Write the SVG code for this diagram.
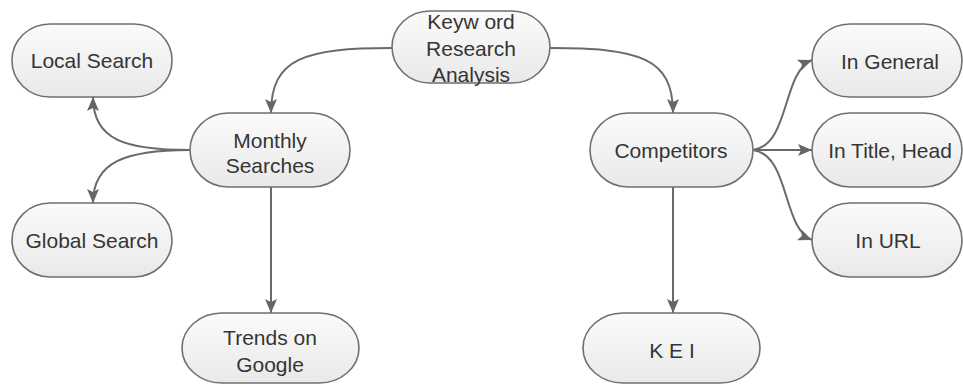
<svg xmlns="http://www.w3.org/2000/svg" width="963" height="385" viewBox="0 0 963 385">
<defs>
<linearGradient id="g" x1="0" y1="0" x2="0" y2="1">
<stop offset="0" stop-color="#fbfbfb"/>
<stop offset="1" stop-color="#e9e9e9"/>
</linearGradient>
<marker id="ah" markerUnits="userSpaceOnUse" markerWidth="16" markerHeight="14" refX="14" refY="7" orient="auto">
<path d="M0,1 L14,7 L0,13 L3,7 Z" fill="#666"/>
</marker>
</defs>
<style>
.n rect{fill:url(#g);stroke:#6f6f6f;stroke-width:1.6}
.n text{font-family:"Liberation Sans",Arial,sans-serif;font-size:21px;fill:#353535;text-anchor:middle}
.c path{fill:none;stroke:#6a6a6a;stroke-width:2;marker-end:url(#ah)}
</style>
<rect width="963" height="385" fill="#fff"/>
<g class="c" id="connectors">
<path d="M392,48 C305,48 271,58 271,113"/>
<path d="M550,48 C640,48 673,58 673,113"/>
<path d="M190,150 C125,150 93,140 93,97"/>
<path d="M190,150 C125,150 93,162 93,203"/>
<path d="M271,187 L271,313"/>
<path d="M753,150 C790,145 782,72 812,60"/>
<path d="M753,150 L812,150"/>
<path d="M753,150 C790,155 782,228 812,240"/>
<path d="M673,187 L673,313"/>
</g>
<g class="n" id="keyword">
<rect x="392" y="11" width="158" height="72" rx="38" ry="36"/>
<text x="471" y="29">Keyw ord</text>
<text x="471" y="56">Research</text>
<text x="471" y="82">Analysis</text>
</g>
<g class="n" id="local">
<rect x="12" y="24" width="160" height="73" rx="38" ry="36"/>
<text x="92" y="68">Local Search</text>
</g>
<g class="n" id="monthly">
<rect x="190" y="113" width="160" height="74" rx="38" ry="37"/>
<text x="270" y="148">Monthly</text>
<text x="270" y="173">Searches</text>
</g>
<g class="n" id="global">
<rect x="12" y="203" width="160" height="74" rx="38" ry="37"/>
<text x="92" y="248">Global Search</text>
</g>
<g class="n" id="trends">
<rect x="182" y="313" width="177" height="70" rx="40" ry="35"/>
<text x="270" y="345">Trends on</text>
<text x="270" y="372">Google</text>
</g>
<g class="n" id="competitors">
<rect x="590" y="113" width="163" height="74" rx="38" ry="37"/>
<text x="671" y="158">Competitors</text>
</g>
<g class="n" id="kei">
<rect x="583" y="313" width="177" height="70" rx="40" ry="35"/>
<text x="672" y="358">K E I</text>
</g>
<g class="n" id="general">
<rect x="812" y="24" width="150" height="73" rx="38" ry="36"/>
<text x="890" y="69">In General</text>
</g>
<g class="n" id="title">
<rect x="812" y="113" width="150" height="74" rx="38" ry="37"/>
<text x="890" y="158">In Title, Head</text>
</g>
<g class="n" id="url">
<rect x="812" y="203" width="150" height="74" rx="38" ry="37"/>
<text x="888" y="248">In URL</text>
</g>
</svg>
